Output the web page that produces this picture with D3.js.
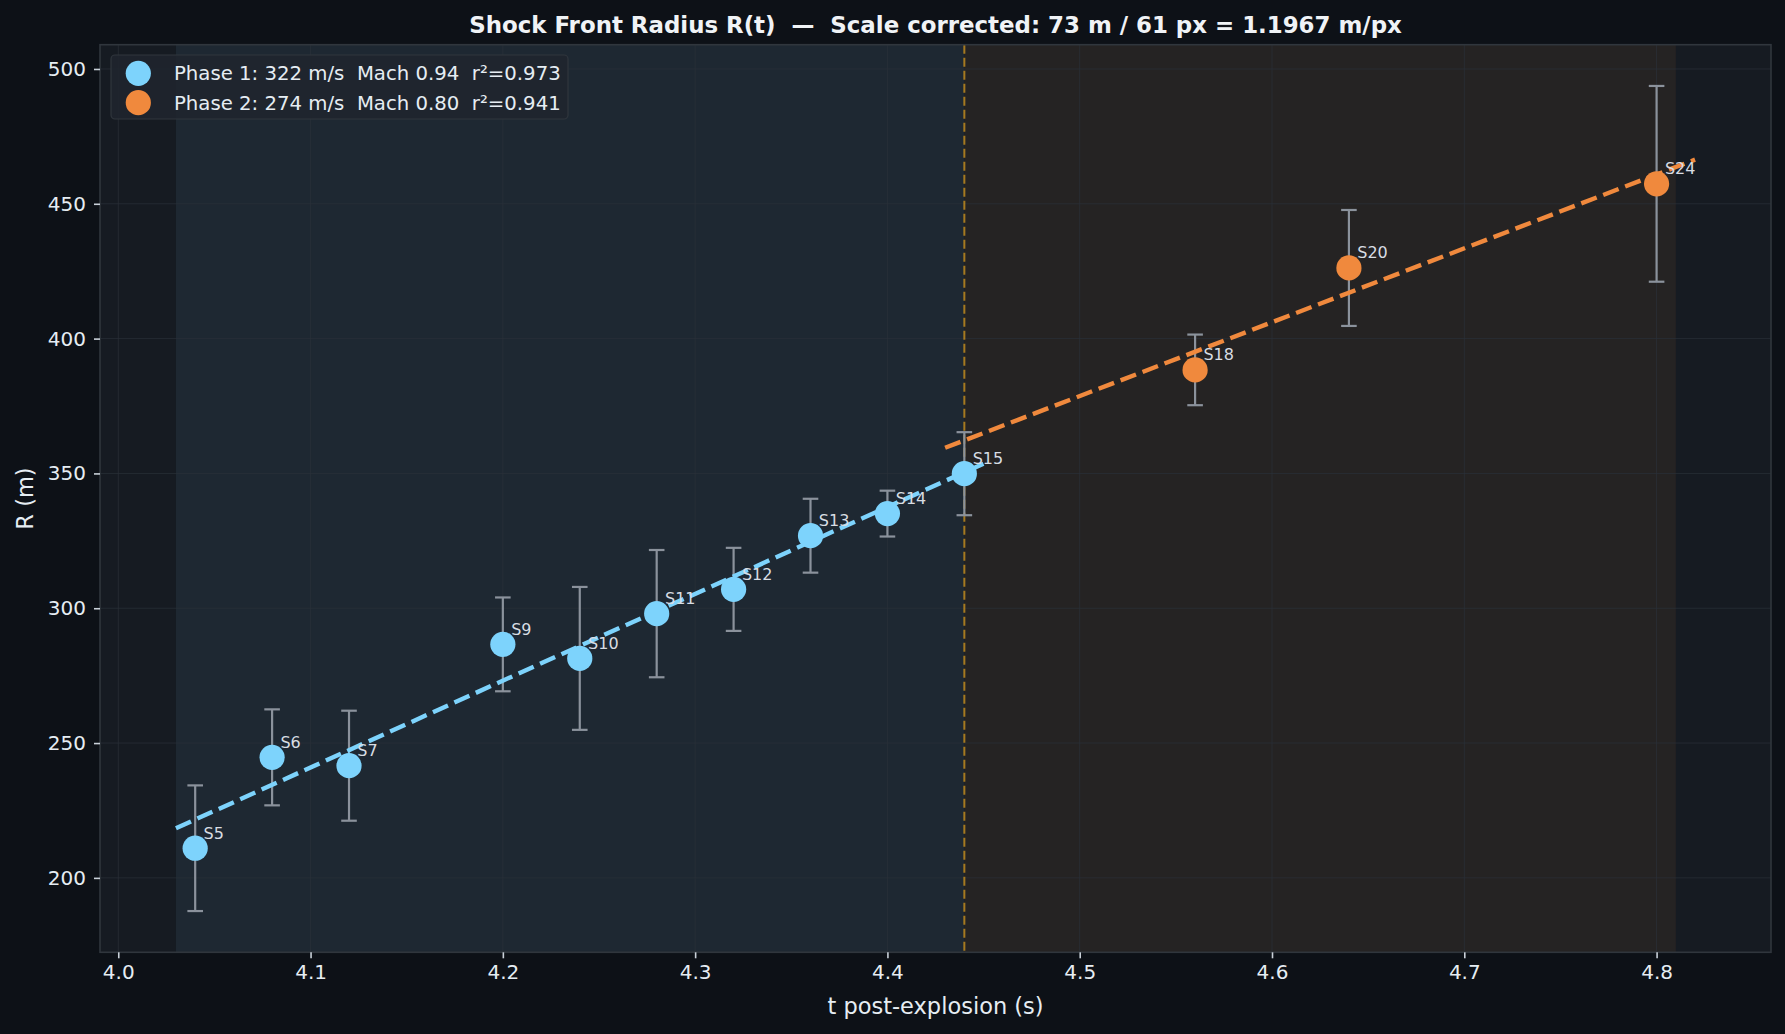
<!DOCTYPE html>
<html lang="en">
<head>
  <meta charset="UTF-8">
  <title>Shock Front Radius R(t)</title>
  <script src="https://d3js.org/d3.v7.min.js"></script>
  <style>
    html, body { margin: 0; padding: 0; background: #0d1117; }
    svg { display: block; font-family: "DejaVu Sans", sans-serif; }
    text { white-space: pre; }
  </style>
</head>
<body>
  <div id="chart"></div>

  <script>
    // data
    const shotLabels = ["S5", "S6", "S7", "S9", "S10", "S11", "S12", "S13", "S14", "S15", "S18", "S20", "S24"];
    const shotT      = [4.04, 4.08, 4.12, 4.20, 4.24, 4.28, 4.32, 4.36, 4.40, 4.44, 4.56, 4.64, 4.80];
    const shotR      = [211.0, 244.7, 241.6, 286.6, 281.4, 298.0, 307.0, 326.9, 335.1, 349.9, 388.4, 426.2, 457.4];
    const shotErr    = [23.3, 17.8, 20.4, 17.4, 26.5, 23.6, 15.4, 13.7, 8.5, 15.4, 13.1, 21.5, 36.3];
    const shotPhase  = [0, 0, 0, 0, 0, 0, 0, 0, 0, 0, 1, 1, 1];

    const phaseNames  = ["Phase 1: 322 m/s  Mach 0.94  r\u00b2=0.973", "Phase 2: 274 m/s  Mach 0.80  r\u00b2=0.941"];
    const phaseSpanT0 = [4.03, 4.44];
    const phaseSpanT1 = [4.44, 4.81];
    const fitSpeed    = [322, 274];
    const fitT0       = [4.03, 4.43];
    const fitT1       = [4.45, 4.82];
    const fitR0       = [218.4, 359.5];
    const breakT      = 4.44;

    const tTicks = [4.0, 4.1, 4.2, 4.3, 4.4, 4.5, 4.6, 4.7, 4.8];
    const rTicks = [200, 250, 300, 350, 400, 450, 500];

    const titleText = "Shock Front Radius R(t)  \u2014  Scale corrected: 73 m / 61 px = 1.1967 m/px";

    // look
    const phaseColor = ["#7dd3fc", "#f0893d"];
    const spanColor  = ["#1e2832", "#252323"];

    const width = 1785, height = 1034;
    const margin = { top: 44.7, right: 14, bottom: 81.7, left: 100 };
    const plotW = width - margin.left - margin.right;
    const plotH = height - margin.top - margin.bottom;

    const svg = d3.select("#chart").append("svg")
      .attr("width", width)
      .attr("height", height);

    svg.append("rect").attr("width", width).attr("height", height).attr("fill", "#0d1117");

    // limits with 5% padding like matplotlib
    const tMin = d3.min(fitT0), tMax = d3.max(fitT1);
    const rMin = d3.min(shotR.map((r, i) => r - shotErr[i]));
    const rMax = d3.max(shotR.map((r, i) => r + shotErr[i]));
    const tPad = (tMax - tMin) * 0.05, rPad = (rMax - rMin) * 0.05;

    const x = d3.scaleLinear().domain([tMin - tPad, tMax + tPad]).range([0, plotW]);
    const y = d3.scaleLinear().domain([rMin - rPad, rMax + rPad]).range([plotH, 0]);

    const g = svg.append("g").attr("transform", `translate(${margin.left},${margin.top})`);

    g.append("rect").attr("width", plotW).attr("height", plotH).attr("fill", "#161b22");

    // phase spans
    g.selectAll(".span")
      .data(phaseSpanT0)
      .enter()
      .append("rect")
      .attr("x", (d, i) => x(d))
      .attr("y", 0)
      .attr("width", (d, i) => x(phaseSpanT1[i]) - x(d))
      .attr("height", plotH)
      .attr("fill", (d, i) => spanColor[i]);

    // grid
    g.append("g")
      .selectAll("line")
      .data(tTicks)
      .enter()
      .append("line")
      .attr("x1", d => x(d)).attr("x2", d => x(d))
      .attr("y1", 0).attr("y2", plotH)
      .attr("stroke", "#2b313a").attr("stroke-width", 1).attr("opacity", 0.7);

    g.append("g")
      .selectAll("line")
      .data(rTicks)
      .enter()
      .append("line")
      .attr("x1", 0).attr("x2", plotW)
      .attr("y1", d => y(d)).attr("y2", d => y(d))
      .attr("stroke", "#2b313a").attr("stroke-width", 1).attr("opacity", 0.7);

    // break line
    g.append("line")
      .attr("x1", x(breakT)).attr("x2", x(breakT))
      .attr("y1", 0).attr("y2", plotH)
      .attr("stroke", "#c8901f").attr("stroke-width", 2)
      .attr("stroke-dasharray", "9,4").attr("opacity", 0.8);

    // error bars
    const eb = g.append("g");
    shotT.forEach((t, i) => {
      const cx = x(t);
      const yTop = y(shotR[i] + shotErr[i]);
      const yBot = y(shotR[i] - shotErr[i]);
      eb.append("line").attr("x1", cx).attr("x2", cx).attr("y1", yTop).attr("y2", yBot);
      eb.append("line").attr("x1", cx - 7.8).attr("x2", cx + 7.8).attr("y1", yTop).attr("y2", yTop);
      eb.append("line").attr("x1", cx - 7.8).attr("x2", cx + 7.8).attr("y1", yBot).attr("y2", yBot);
    });
    eb.selectAll("line").attr("stroke", "#8b929c").attr("stroke-width", 2.2);

    // fit lines
    const line = d3.line().x(d => x(d[0])).y(d => y(d[1]));
    g.selectAll(".fit")
      .data(fitT0.map((t0, i) => [[t0, fitR0[i]], [fitT1[i], fitR0[i] + fitSpeed[i] * (fitT1[i] - t0)]]))
      .enter()
      .append("path")
      .attr("fill", "none")
      .attr("stroke", (d, i) => phaseColor[i])
      .attr("stroke-width", 4.4)
      .attr("stroke-dasharray", "16.5,7")
      .attr("d", line);

    // points
    g.selectAll(".pt")
      .data(shotT)
      .enter()
      .append("circle")
      .attr("cx", d => x(d))
      .attr("cy", (d, i) => y(shotR[i]))
      .attr("r", 12.6)
      .attr("fill", (d, i) => phaseColor[shotPhase[i]]);

    g.selectAll(".lbl")
      .data(shotLabels)
      .enter()
      .append("text")
      .attr("x", (d, i) => x(shotT[i]) + 8.3)
      .attr("y", (d, i) => y(shotR[i]) - 9.5)
      .attr("fill", "#d8dde3")
      .attr("font-size", 16)
      .text(d => d);

    // frame
    g.append("rect").attr("width", plotW).attr("height", plotH)
      .attr("fill", "none").attr("stroke", "#30363d").attr("stroke-width", 1.6);

    // axes
    const xAxis = g.append("g")
      .attr("transform", `translate(0,${plotH})`)
      .call(d3.axisBottom(x).tickValues(tTicks).tickFormat(d3.format(".1f")).tickSize(6).tickPadding(7));
    const yAxis = g.append("g")
      .call(d3.axisLeft(y).tickValues(rTicks).tickFormat(d3.format("d")).tickSize(6).tickPadding(8));
    [xAxis, yAxis].forEach(a => {
      a.select(".domain").remove();
      a.selectAll("line").attr("stroke", "#c9d1d9").attr("stroke-width", 1.6);
      a.selectAll("text").attr("fill", "#e6edf3").attr("font-size", 20)
        .attr("font-family", "DejaVu Sans");
    });

    svg.append("text")
      .attr("x", margin.left + plotW / 2)
      .attr("y", 1014)
      .attr("text-anchor", "middle")
      .attr("fill", "#e6edf3")
      .attr("font-size", 22.5)
      .text("t post-explosion (s)");

    svg.append("text")
      .attr("transform", `translate(33,${margin.top + plotH / 2}) rotate(-90)`)
      .attr("text-anchor", "middle")
      .attr("fill", "#e6edf3")
      .attr("font-size", 22.5)
      .text("R (m)");

    svg.append("text")
      .attr("x", margin.left + plotW / 2)
      .attr("y", 33)
      .attr("text-anchor", "middle")
      .attr("fill", "#f0f3f6")
      .attr("font-size", 22.9)
      .attr("font-weight", "bold")
      .text(titleText);

    // legend
    const lg = svg.append("g");
    lg.append("rect")
      .attr("x", 111).attr("y", 55).attr("width", 457).attr("height", 64)
      .attr("rx", 4)
      .attr("fill", "#1f252d").attr("fill-opacity", 0.9)
      .attr("stroke", "#30363d").attr("stroke-width", 1.2);
    phaseNames.forEach((name, i) => {
      const cy = 73.3 + i * 29.4;
      lg.append("circle").attr("cx", 138.3).attr("cy", cy).attr("r", 12.6).attr("fill", phaseColor[i]);
      lg.append("text").attr("x", 174).attr("y", cy + 6.8)
        .attr("fill", "#e6edf3").attr("font-size", 19.7).text(name);
    });
  </script>
</body>
</html>
